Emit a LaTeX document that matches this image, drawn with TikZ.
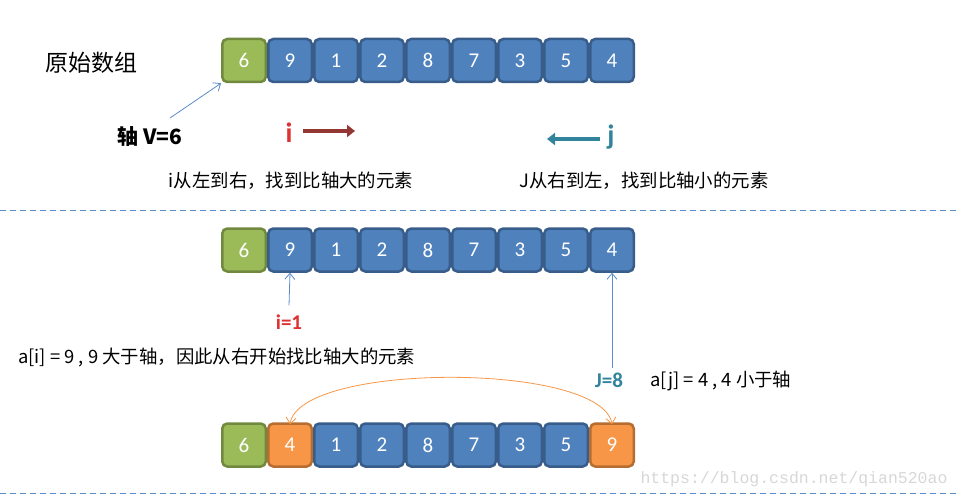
\documentclass[tikz,border=0pt]{standalone}
\usepackage{fontspec}
\setmainfont{Carlito}
\newfontfamily\cjk{Noto Sans CJK SC}
\newfontfamily\wmfont{Liberation Mono}
\usetikzlibrary{arrows.meta}
\definecolor{cellblue}{RGB}{79,129,189}
\definecolor{cellblueline}{RGB}{56,93,138}
\definecolor{pivgreen}{RGB}{155,187,89}
\definecolor{pivgreenline}{RGB}{113,137,63}
\definecolor{swaporange}{RGB}{247,150,70}
\definecolor{swaporangeline}{RGB}{182,109,49}
\definecolor{idarkred}{RGB}{148,54,52}
\definecolor{ired}{RGB}{222,50,50}
\definecolor{jteal}{RGB}{49,132,155}
\definecolor{sepline}{RGB}{90,140,200}
\definecolor{wmgray}{RGB}{215,215,215}

\begin{document}
\begin{tikzpicture}[x=1pt, y=-1pt,
  cell/.style={rounded corners=5pt, line width=2.5pt,
               minimum width=43.5pt, minimum height=43pt, inner sep=0pt,
               text=white, font=\fontsize{21}{24}\selectfont},
  bluecell/.style={cell, draw=cellblueline, fill=cellblue},
  pivcell/.style={cell, draw=pivgreenline, fill=pivgreen},
  swapcell/.style={cell, draw=swaporangeline, fill=swaporange},
  note/.style={font=\cjk\fontsize{18.4}{22}\selectfont, inner sep=0pt},
  ptr/.style={-{Straight Barb[length=6pt, width=10pt]}, line width=0.8pt, sepline},
  fat/.style={-{Triangle[length=8pt, width=12pt]}, line width=4.5pt},
  sep/.style={sepline, line width=0.8pt, dash pattern=on 6pt off 4pt}]
\useasboundingbox (0,0) rectangle (960,497);
% original array
\node[note, font=\cjk\fontsize{23}{27}\selectfont] (title) at (91,63) {原始数组};
\node[pivcell]  (t0) at (244,60.5) {6};
\node[bluecell] (t1) at (290,60.5) {9};
\node[bluecell] (t2) at (336,60.5) {1};
\node[bluecell] (t3) at (382,60.5) {2};
\node[bluecell] (t4) at (428,60.5) {8};
\node[bluecell] (t5) at (474,60.5) {7};
\node[bluecell] (t6) at (520,60.5) {3};
\node[bluecell] (t7) at (566,60.5) {5};
\node[bluecell] (t8) at (612,60.5) {4};
\node[note, font=\cjk\bfseries\fontsize{21}{24}\selectfont] (pivlab) at (150,137) {轴 V=6};
\coordinate (pivtail) at (170,118);
\draw[ptr] (pivtail) -- (t0.south west);
% scan directions
\node[text=ired, font=\bfseries\fontsize{28}{30}\selectfont, inner sep=0pt] (itop) at (289,133) {i};
\coordinate (istart) at (303,131);
\coordinate (iend) at (355,131);
\draw[fat, idarkred] (istart) -- (iend);
\node[text=jteal, font=\bfseries\fontsize{28}{30}\selectfont, inner sep=0pt] (jtop) at (611,137) {j};
\coordinate (jstart) at (600,139);
\coordinate (jend) at (547,139);
\draw[fat, jteal] (jstart) -- (jend);
\node[note] (inote) at (291,181) {i从左到右，找到比轴大的元素};
\node[note] (jnote) at (644,181) {J从右到左，找到比轴小的元素};
\draw[sep] (0,210) -- (960,210);
% first scan
\node[pivcell]  (m0) at (244,250) {6};
\node[bluecell] (m1) at (290,250) {9};
\node[bluecell] (m2) at (336,250) {1};
\node[bluecell] (m3) at (382,250) {2};
\node[bluecell] (m4) at (428,250) {8};
\node[bluecell] (m5) at (474,250) {7};
\node[bluecell] (m6) at (520,250) {3};
\node[bluecell] (m7) at (566,250) {5};
\node[bluecell] (m8) at (612,250) {4};
\node[text=ired, font=\bfseries\fontsize{21}{24}\selectfont, inner sep=0pt] (ilab) at (289,322) {i=1};
\draw[ptr] ([yshift=9pt]ilab.north) -- (m1.south);
\node[note, anchor=west] (anote) at (18,357) {a[i] = 9 , 9 大于轴，因此从右开始找比轴大的元素};
\node[text=jteal, font=\bfseries\fontsize{21}{24}\selectfont, inner sep=0pt] (jlab) at (609,380) {J=8};
\node[note, anchor=west] (bnote) at (650,381) {a[j] = 4 , 4 小于轴};
\draw[ptr] ([xshift=3pt,yshift=4pt]jlab.north) -- (m8.south);
% after swap
\node[pivcell]  (b0) at (244,445) {6};
\node[swapcell] (b1) at (290,445) {4};
\node[bluecell] (b2) at (336,445) {1};
\node[bluecell] (b3) at (382,445) {2};
\node[bluecell] (b4) at (428,445) {8};
\node[bluecell] (b5) at (474,445) {7};
\node[bluecell] (b6) at (520,445) {3};
\node[bluecell] (b7) at (566,445) {5};
\node[swapcell] (b8) at (612,445) {9};
\draw[ptr, swaporange, {Straight Barb[length=6pt, width=10pt]}-{Straight Barb[length=6pt, width=10pt]}]
  ([yshift=-2pt]b1.north) .. controls (300,362) and (601,362) .. ([yshift=-2pt]b8.north);
\node[text=wmgray, font=\wmfont\fontsize{16.5}{18}\selectfont, inner sep=0pt] (mark) at (794,479) {https://blog.csdn.net/qian520ao};
\draw[sep] (0,493) -- (960,493);
\end{tikzpicture}
\end{document}
